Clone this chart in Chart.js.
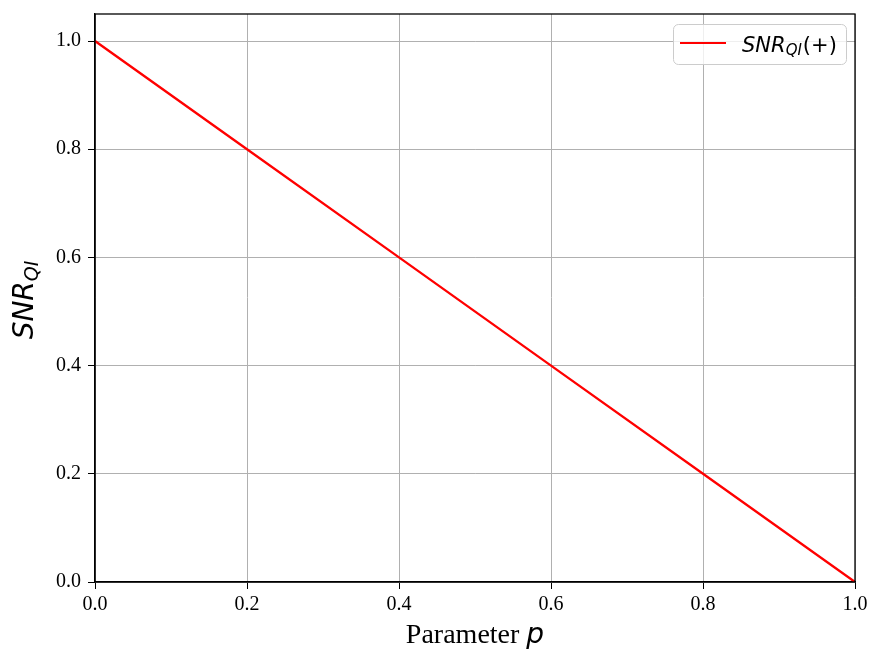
<!DOCTYPE html>
<html>
<head>
<meta charset="utf-8">
<script src="https://cdn.jsdelivr.net/npm/chart.js@4.4.0/dist/chart.umd.min.js"></script>
<style>
html,body{margin:0;padding:0;background:#fff;}
#wrap{width:871px;height:650px;}
</style>
</head>
<body>
<div id="wrap"><canvas id="c" width="871" height="650"></canvas></div>
<script>
const pValues = [0.0, 0.2, 0.4, 0.6, 0.8, 1.0];
const snrValues = [1.0, 0.8, 0.6, 0.4, 0.2, 0.0];
const xTicks = [0.0, 0.2, 0.4, 0.6, 0.8, 1.0];
const yTicks = [0.0, 0.2, 0.4, 0.6, 0.8, 1.0];
const seriesLabel = {main: 'SNR', sub: 'QI', tail: '(+)'};
const yTitle = {main: 'SNR', sub: 'QI'};
const xTitle = {text: 'Parameter ', sym: 'p'};

const SERIF = '"Liberation Serif","DejaVu Serif",serif';
const SANS = '"DejaVu Sans",sans-serif';

const framePlugin = {
  id: 'frame',
  afterDraw(chart) {
    const ctx = chart.ctx, a = chart.chartArea;
    ctx.save();
    ctx.strokeStyle = '#000';
    ctx.lineWidth = 1.3;
    ctx.strokeRect(a.left, a.top, a.right - a.left, a.bottom - a.top);

    // legend
    const lx = 673.5, ly = 24.5, lw = 173, lh = 40, r = 5;
    ctx.beginPath();
    ctx.moveTo(lx + r, ly);
    ctx.arcTo(lx + lw, ly, lx + lw, ly + lh, r);
    ctx.arcTo(lx + lw, ly + lh, lx, ly + lh, r);
    ctx.arcTo(lx, ly + lh, lx, ly, r);
    ctx.arcTo(lx, ly, lx + lw, ly, r);
    ctx.closePath();
    ctx.fillStyle = 'rgba(255,255,255,0.8)';
    ctx.fill();
    ctx.strokeStyle = '#cccccc';
    ctx.lineWidth = 1;
    ctx.stroke();
    ctx.strokeStyle = 'red';
    ctx.lineWidth = 2.2;
    ctx.beginPath();
    ctx.moveTo(680, 43); ctx.lineTo(726, 43);
    ctx.stroke();
    ctx.fillStyle = '#000';
    ctx.textBaseline = 'alphabetic';
    ctx.textAlign = 'left';
    let x = 742, base = 52;
    ctx.font = 'italic 21px ' + SANS;
    ctx.fillText(seriesLabel.main, x, base);
    x += ctx.measureText(seriesLabel.main).width;
    ctx.font = 'italic 15px ' + SANS;
    ctx.fillText(seriesLabel.sub, x, base + 3);
    x += ctx.measureText(seriesLabel.sub).width + 1;
    ctx.font = '21px ' + SANS;
    ctx.fillText(seriesLabel.tail, x, base);

    // x title
    ctx.font = '28px ' + SERIF;
    const w1 = ctx.measureText(xTitle.text).width;
    ctx.font = 'italic 28px ' + SANS;
    const w2 = ctx.measureText(xTitle.sym).width;
    const cx = (a.left + a.right) / 2;
    let tx = cx - (w1 + w2) / 2;
    ctx.font = '28px ' + SERIF;
    ctx.fillText(xTitle.text, tx, 643);
    ctx.font = 'italic 28px ' + SANS;
    ctx.fillText(xTitle.sym, tx + w1, 643);

    // y title
    ctx.save();
    ctx.translate(33, (a.top + a.bottom) / 2 + 2);
    ctx.rotate(-Math.PI / 2);
    ctx.font = 'italic 28px ' + SANS;
    const m1 = ctx.measureText(yTitle.main).width;
    ctx.font = 'italic 19px ' + SANS;
    const m2 = ctx.measureText(yTitle.sub).width;
    let yx = -(m1 + m2) / 2;
    ctx.font = 'italic 28px ' + SANS;
    ctx.fillText(yTitle.main, yx, 0);
    ctx.font = 'italic 19px ' + SANS;
    ctx.fillText(yTitle.sub, yx + m1, 5);
    ctx.restore();
    ctx.restore();
  }
};

new Chart(document.getElementById('c'), {
  type: 'line',
  data: {
    datasets: [{
      label: 'SNR_QI(+)',
      data: pValues.map((p, i) => ({x: p, y: snrValues[i]})),
      borderColor: 'red',
      borderWidth: 2.3,
      pointRadius: 0,
      tension: 0,
      fill: false
    }]
  },
  options: {
    responsive: false,
    animation: false,
    devicePixelRatio: 1,
    layout: {padding: {top: 14, right: 16, left: 0, bottom: 0}},
    plugins: {legend: {display: false}, tooltip: {enabled: false}},
    scales: {
      x: {
        type: 'linear', min: 0, max: 1,
        afterBuildTicks(s) { s.ticks = xTicks.map(v => ({value: v})); },
        afterFit(s) { s.height = 68; s.paddingLeft = 0; s.paddingRight = 0; },
        ticks: {
          callback: v => Number(v).toFixed(1),
          font: {family: SERIF, size: 20},
          color: '#000', padding: 4, maxRotation: 0, autoSkip: false
        },
        grid: {color: '#b0b0b0', lineWidth: 1, tickColor: '#000', tickLength: 7, drawTicks: true},
        border: {color: '#000', width: 1.3}
      },
      y: {
        type: 'linear', min: 0, max: 1.05,
        afterBuildTicks(s) { s.ticks = yTicks.map(v => ({value: v})); },
        afterFit(s) { s.width = 95; s.paddingTop = 0; s.paddingBottom = 0; },
        ticks: {
          callback: v => Number(v).toFixed(1),
          font: {family: SERIF, size: 20},
          color: '#000', padding: 7, autoSkip: false
        },
        grid: {color: '#b0b0b0', lineWidth: 1, tickColor: '#000', tickLength: 7, drawTicks: true},
        border: {color: '#000', width: 1.3}
      }
    }
  },
  plugins: [framePlugin]
});
</script>
</body>
</html>
